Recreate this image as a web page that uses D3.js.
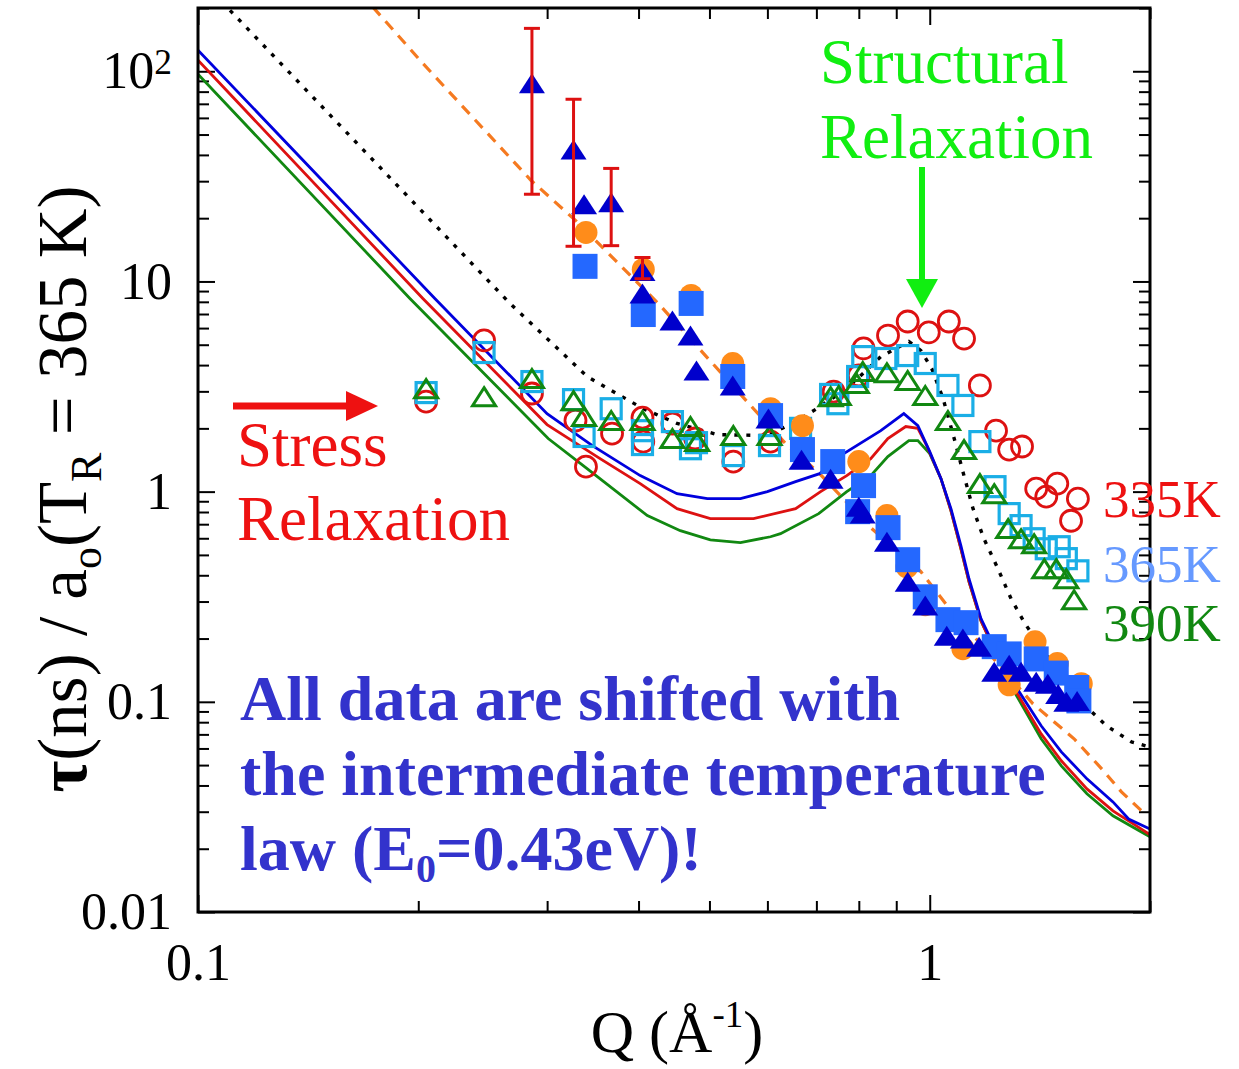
<!DOCTYPE html>
<html><head><meta charset="utf-8">
<script src="https://cdn.jsdelivr.net/npm/d3@7"></script>
<style>
body{margin:0;background:#fff}
svg text{font-family:"Liberation Serif","Times New Roman",serif}
</style>
</head><body>
<svg id="c" width="1239" height="1069"></svg>
<script>
// ---------- data (Q in 1/Å, tau in ns) ----------
const xDomain = [0.1, 2];
const yDomain = [0.01, 200];
const xMajorTicks = [0.1, 1];
const xTickLabels = ["0.1", "1"];
const xMinorTicks = [0.2,0.3,0.4,0.5,0.6,0.7,0.8,0.9,2];
const yMajorTicks = [0.01, 0.1, 1, 10, 100];
const yTickLabels = ["0.01", "0.1", "1", "10", "10^2"];
const yMinorTicks = [2,3,4,5,6,7,8,9].flatMap(m => [0.01,0.1,1,10,100].map(d => m*d)).filter(v => v <= 200);

// shifted data: filled orange circles
const shiftCircQ   = [0.339,0.406,0.472,0.538,0.606,0.670,0.800,0.874,0.931,0.986,1.110,1.284,1.393,1.494,1.611];
const shiftCircTau = [17.1,11.4,8.58,4.07,2.48,2.06,1.39,0.769,0.439,0.290,0.179,0.1205,0.193,0.152,0.122];
// shifted data: filled blue squares
const shiftSqQ   = [0.338,0.406,0.472,0.538,0.606,0.670,0.737,0.812,0.797,0.877,0.933,0.986,1.059,1.121,1.225,1.284,1.398,1.489,1.588,1.599];
const shiftSqTau = [11.8,6.96,7.86,3.53,2.30,1.585,1.39,1.068,0.803,0.674,0.4745,0.316,0.246,0.238,0.183,0.169,0.160,0.137,0.117,0.101];
// shifted data: filled dark-blue triangles
const shiftTriQ   = [0.286,0.326,0.337,0.367,0.405,0.405,0.445,0.471,0.480,0.538,0.602,0.668,0.732,0.800,0.810,0.874,0.933,0.986,1.055,1.110,1.168,1.225,1.284,1.333,1.398,1.450,1.498,1.537,1.590];
const shiftTriTau = [87.7,42.5,23.3,23.8,11.2,8.77,6.52,5.53,3.77,3.20,2.23,1.42,1.153,0.848,0.786,0.578,0.373,0.287,0.206,0.200,0.183,0.139,0.150,0.139,0.1245,0.122,0.109,0.100,0.101];
// error bars on triangles
const errQ    = [0.286,0.326,0.367,0.405];
const errLow  = [26.0,14.7,14.8,10.3];
const errHigh = [160,73.6,34.5,13.0];

// 335 K open red circles
const t335Q   = [0.205,0.246,0.286,0.328,0.339,0.368,0.405,0.406,0.445,0.478,0.539,0.606,0.739,0.800,0.812,0.877,0.933,0.997,1.062,1.114,1.171,1.232,1.284,1.337,1.398,1.443,1.494,1.594,1.560];
const t335Tau = [2.68,5.24,2.93,2.18,1.315,1.89,2.25,1.73,2.11,1.79,1.39,1.73,2.99,3.57,4.80,5.53,6.45,5.72,6.45,5.35,3.20,1.95,1.585,1.64,1.033,0.947,1.092,0.926,0.727];
// 365 K open light-blue squares
const t365Q   = [0.205,0.246,0.286,0.326,0.337,0.367,0.405,0.405,0.445,0.471,0.480,0.539,0.604,0.666,0.732,0.749,0.797,0.810,0.871,0.933,0.986,1.059,1.110,1.171,1.228,1.284,1.333,1.389,1.443,1.503,1.537,1.594];
const t365Tau = [2.96,4.59,3.34,2.74,1.83,2.48,1.95,1.675,2.154,1.60,1.71,1.484,1.656,2.0,2.90,2.62,3.53,4.39,4.30,4.44,4.07,3.20,2.57,1.73,1.056,0.786,0.689,0.597,0.535,0.547,0.480,0.42];
// 390 K open green triangles
const t390Q   = [0.205,0.246,0.286,0.326,0.337,0.367,0.405,0.445,0.471,0.481,0.539,0.604,0.732,0.751,0.795,0.810,0.874,0.933,0.986,1.059,1.114,1.171,1.225,1.280,1.333,1.389,1.434,1.489,1.537,1.575];
const t390Tau = [3.09,2.83,3.45,2.71,2.28,2.18,2.18,1.79,2.04,1.73,1.848,1.848,2.83,2.865,3.27,3.73,3.68,3.38,2.865,2.18,1.585,1.092,0.978,0.667,0.597,0.565,0.43,0.43,0.385,0.306];

// model curves
const blueLineQ   = [0.1,0.2107,0.2999,0.3459,0.4021,0.4515,0.4967,0.5512,0.600,0.6557,0.7072,0.7631,0.8573,0.9217,0.9633,1.0,1.036,1.069,1.103,1.1315,1.175,1.22,1.292,1.42,1.513,1.64,1.78,1.87,2.0];
const blueLineTau = [126,8.30,2.35,1.656,1.192,0.978,0.926,0.926,1.0,1.116,1.218,1.517,1.95,2.35,2.06,1.55,1.153,0.83,0.553,0.385,0.249,0.189,0.128,0.0769,0.0578,0.043,0.0334,0.0277,0.0248];
const redLineQ    = [0.1,0.2029,0.2999,0.3544,0.4021,0.4515,0.5014,0.5744,0.6557,0.7094,0.7702,0.8306,0.8765,0.9274,0.9633,0.9906,1.036,1.069,1.103,1.1315,1.175,1.22,1.305,1.42,1.513,1.64,1.78,1.947,2.0];
const redLineTau  = [113,8.30,2.085,1.436,1.092,0.83,0.744,0.744,0.83,1.0,1.192,1.436,1.79,2.04,2.0,1.656,1.153,0.812,0.535,0.373,0.243,0.183,0.1154,0.0704,0.0524,0.0385,0.0303,0.0248,0.0233];
const greenLineQ  = [0.1,0.1948,0.301,0.3402,0.4112,0.4562,0.5014,0.5512,0.6059,0.6253,0.7051,0.7702,0.8306,0.8765,0.9364,0.9633,1.0,1.036,1.069,1.103,1.1315,1.175,1.22,1.305,1.42,1.513,1.64,1.78,1.947,2.0];
const greenLineTau= [96.8,8.30,1.79,1.287,0.769,0.652,0.59,0.572,0.61,0.631,0.786,1.0,1.192,1.468,1.75,1.75,1.517,1.153,0.812,0.535,0.373,0.243,0.183,0.1116,0.0667,0.0496,0.0365,0.0287,0.024,0.0228];
const blackDotQ   = [0.1106,0.2669,0.3402,0.4059,0.4515,0.5126,0.600,0.6557,0.7008,0.7702,0.8573,0.9364,0.9726,1.0063,1.043,1.08,1.11,1.146,1.186,1.236,1.292,1.35,1.513,1.647,1.744,1.887,2.0];
const blackDotTau = [195,7.86,3.53,2.48,2.11,1.868,1.848,2.154,2.48,3.09,4.39,5.18,4.69,3.85,2.77,1.79,1.245,0.83,0.597,0.439,0.309,0.235,0.133,0.0928,0.0769,0.0645,0.0609];
const orangeDashQ   = [0.1734,0.2029,0.2851,0.3291,0.4256,0.5079,0.5744,0.6393,0.7051,0.8306,0.9726,1.059,1.384,1.575,1.72,1.828,1.947];
const orangeDashTau = [202,109,30.3,19.3,7.86,3.98,2.48,1.656,1.231,0.674,0.416,0.284,0.0978,0.0667,0.0478,0.0373,0.0303];

// ---------- drawing ----------
const svg = d3.select("#c");
const M = {l:198, r:1150, t:8, b:912};
const x = d3.scaleLog().domain(xDomain).range([M.l, M.r]);
const y = d3.scaleLog().domain(yDomain).range([M.b, M.t]);
const zip = (a,b) => a.map((v,i) => [v, b[i]]);

svg.append("rect").attr("width",1239).attr("height",1069).attr("fill","#fff");
svg.append("defs").append("clipPath").attr("id","clip")
  .append("rect").attr("x",M.l).attr("y",M.t).attr("width",M.r-M.l).attr("height",M.b-M.t);

// axes
function styleAxis(g){
  g.select(".domain").remove();
  g.selectAll(".tick line").attr("stroke","#000").attr("stroke-width",2);
  g.selectAll("text").attr("font-family","Liberation Serif, Times New Roman, serif").attr("font-size",52).attr("fill","#000");
}
svg.append("g").attr("transform",`translate(0,${M.b})`)
  .call(d3.axisBottom(x).tickValues(xMajorTicks).tickSize(-17).tickPadding(31).tickFormat((d,i)=>xTickLabels[i]))
  .call(styleAxis);
svg.append("g").attr("transform",`translate(0,${M.b})`)
  .call(d3.axisBottom(x).tickValues(xMinorTicks).tickSize(-11).tickFormat(""))
  .call(styleAxis);
svg.append("g").attr("transform",`translate(0,${M.t})`)
  .call(d3.axisTop(x).tickValues(xMajorTicks).tickSize(-17).tickFormat(""))
  .call(styleAxis);
svg.append("g").attr("transform",`translate(0,${M.t})`)
  .call(d3.axisTop(x).tickValues(xMinorTicks).tickSize(-11).tickFormat(""))
  .call(styleAxis);
const yl = svg.append("g").attr("transform",`translate(${M.l},0)`)
  .call(d3.axisLeft(y).tickValues(yMajorTicks).tickSize(-17).tickPadding(26).tickFormat((d,i)=>yTickLabels[i]))
  .call(styleAxis);
yl.selectAll(".tick text").each(function(d,i){
  const s = yTickLabels[i];
  if (s.includes("^")) {
    const [b,e] = s.split("^");
    const t = d3.select(this).text(b);
    t.append("tspan").attr("dy","-0.42em").attr("font-size","0.68em").text(e);
  }
});
svg.append("g").attr("transform",`translate(${M.l},0)`)
  .call(d3.axisLeft(y).tickValues(yMinorTicks).tickSize(-11).tickFormat("")).call(styleAxis);
svg.append("g").attr("transform",`translate(${M.r},0)`)
  .call(d3.axisRight(y).tickValues(yMajorTicks).tickSize(-17).tickFormat("")).call(styleAxis);
svg.append("g").attr("transform",`translate(${M.r},0)`)
  .call(d3.axisRight(y).tickValues(yMinorTicks).tickSize(-11).tickFormat("")).call(styleAxis);

// lines
const line = d3.line().x(d=>x(d[0])).y(d=>y(d[1]));
const gL = svg.append("g").attr("clip-path","url(#clip)").attr("fill","none");
gL.append("path").datum(zip(blackDotQ,blackDotTau)).attr("d",line)
  .attr("stroke","#000").attr("stroke-width",3.4).attr("stroke-dasharray","4 8");
gL.append("path").datum(zip(orangeDashQ,orangeDashTau)).attr("d",line)
  .attr("stroke","#f57a20").attr("stroke-width",3.2).attr("stroke-dasharray","11 8");
gL.append("path").datum(zip(greenLineQ,greenLineTau)).attr("d",line).attr("stroke","#118811").attr("stroke-width",2.8);
gL.append("path").datum(zip(redLineQ,redLineTau)).attr("d",line).attr("stroke","#dd1111").attr("stroke-width",2.8);
gL.append("path").datum(zip(blueLineQ,blueLineTau)).attr("d",line).attr("stroke","#0000dd").attr("stroke-width",2.8);

// markers
const tri = (w,h) => `M0,${-h/2}L${w/2},${h/2}L${-w/2},${h/2}Z`;
const gM = svg.append("g");
gM.selectAll(".c335").data(zip(t335Q,t335Tau)).join("circle")
  .attr("cx",d=>x(d[0])).attr("cy",d=>y(d[1])).attr("r",10.5)
  .attr("fill","none").attr("stroke","#dd1111").attr("stroke-width",2.8);
gM.selectAll(".s365").data(zip(t365Q,t365Tau)).join("rect")
  .attr("x",d=>x(d[0])-10).attr("y",d=>y(d[1])-10).attr("width",20).attr("height",20)
  .attr("fill","none").attr("stroke","#1aaee6").attr("stroke-width",3.2);
gM.selectAll(".t390").data(zip(t390Q,t390Tau)).join("path")
  .attr("transform",d=>`translate(${x(d[0])},${y(d[1])})`).attr("d",tri(23,18))
  .attr("fill","none").attr("stroke","#118811").attr("stroke-width",3).attr("stroke-linejoin","miter");
gM.selectAll(".fc").data(zip(shiftCircQ,shiftCircTau)).join("circle")
  .attr("cx",d=>x(d[0])).attr("cy",d=>y(d[1])).attr("r",11.5).attr("fill","#ff8c1a");
gM.selectAll(".fs").data(zip(shiftSqQ,shiftSqTau)).join("rect")
  .attr("x",d=>x(d[0])-12.5).attr("y",d=>y(d[1])-12.5).attr("width",25).attr("height",25).attr("fill","#2468ff");
gM.selectAll(".ft").data(zip(shiftTriQ,shiftTriTau)).join("path")
  .attr("transform",d=>`translate(${x(d[0])},${y(d[1])})`).attr("d",tri(26,20)).attr("fill","#0000cc");

// error bars
const gE = svg.append("g").attr("stroke","#dd1111").attr("stroke-width",3).attr("fill","none");
errQ.forEach((q,i)=>{
  const cx = x(q), y1 = y(errHigh[i]), y2 = y(errLow[i]);
  gE.append("line").attr("x1",cx).attr("x2",cx).attr("y1",y1).attr("y2",y2);
  gE.append("line").attr("x1",cx-8).attr("x2",cx+8).attr("y1",y1).attr("y2",y1);
  gE.append("line").attr("x1",cx-8).attr("x2",cx+8).attr("y1",y2).attr("y2",y2);
});

// frame
svg.append("rect").attr("x",M.l).attr("y",M.t).attr("width",M.r-M.l).attr("height",M.b-M.t)
  .attr("fill","none").attr("stroke","#000").attr("stroke-width",3);

// axis titles
const xt = svg.append("text").attr("x",677).attr("y",1052).attr("text-anchor","middle").attr("font-size",60);
xt.append("tspan").text("Q (Å");
xt.append("tspan").attr("dy",-25).attr("font-size",37).text("-1");
xt.append("tspan").attr("dy",25).text(")");

const ytg = svg.append("text").attr("transform","translate(86,489) rotate(-90)").attr("text-anchor","middle").attr("font-size",69);
ytg.append("tspan").attr("font-weight","bold").text("τ");
ytg.append("tspan").text("(ns) / a");
ytg.append("tspan").attr("dy",15).attr("font-size",44).text("o");
ytg.append("tspan").attr("dy",-15).text("(T");
ytg.append("tspan").attr("dy",15).attr("font-size",44).text("R");
ytg.append("tspan").attr("dy",-15).text(" = 365 K)");

// annotations
svg.append("text").attr("x",820).attr("y",83).attr("font-size",63).attr("fill","#11ee11").text("Structural");
svg.append("text").attr("x",820).attr("y",158).attr("font-size",63).attr("fill","#11ee11").text("Relaxation");
svg.append("line").attr("x1",922).attr("x2",922).attr("y1",167).attr("y2",284).attr("stroke","#11ee11").attr("stroke-width",6);
svg.append("path").attr("d","M906,279L938,279L922,308Z").attr("fill","#11ee11");

svg.append("text").attr("x",237).attr("y",466).attr("font-size",63).attr("fill","#ee1111").text("Stress");
svg.append("text").attr("x",237).attr("y",540).attr("font-size",63).attr("fill","#ee1111").text("Relaxation");
svg.append("line").attr("x1",233).attr("x2",350).attr("y1",406).attr("y2",406).attr("stroke","#ee1111").attr("stroke-width",7);
svg.append("path").attr("d","M346,391L346,421L378,406Z").attr("fill","#ee1111");

svg.append("text").attr("x",1103).attr("y",517).attr("font-size",53).attr("fill","#ee1111").text("335K");
svg.append("text").attr("x",1103).attr("y",582).attr("font-size",53).attr("fill","#6699ff").text("365K");
svg.append("text").attr("x",1103).attr("y",641).attr("font-size",53).attr("fill","#118811").text("390K");

const bt = svg.append("g").attr("fill","#3333cc").attr("font-weight","bold");
bt.append("text").attr("x",240).attr("y",720).attr("font-size",64).text("All data are shifted with");
bt.append("text").attr("x",240).attr("y",795).attr("font-size",64).text("the intermediate temperature");
const l3 = bt.append("text").attr("x",240).attr("y",870).attr("font-size",64);
l3.append("tspan").text("law (E");
l3.append("tspan").attr("dy",12).attr("font-size",40).text("0");
l3.append("tspan").attr("dy",-12).text("=0.43eV)!");
</script>
</body></html>
